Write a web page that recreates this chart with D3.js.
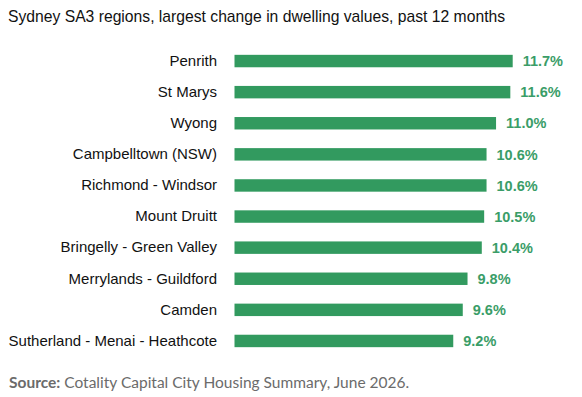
<!DOCTYPE html>
<html>
<head>
<meta charset="utf-8">
<script src="https://cdn.jsdelivr.net/npm/d3@7/dist/d3.min.js"></script>
<style>
  html, body { margin: 0; padding: 0; background: #fff; }
  svg { display: block; }
</style>
</head>
<body>
<svg id="chart" width="582" height="397"></svg>
<script>
const categories = ["Penrith", "St Marys", "Wyong", "Campbelltown (NSW)", "Richmond - Windsor",
  "Mount Druitt", "Bringelly - Green Valley", "Merrylands - Guildford", "Camden",
  "Sutherland - Menai - Heathcote"];
const values = [11.7, 11.6, 11.0, 10.6, 10.6, 10.5, 10.4, 9.8, 9.6, 9.2];
const valueLabels = ["11.7%", "11.6%", "11.0%", "10.6%", "10.6%", "10.5%", "10.4%", "9.8%", "9.6%", "9.2%"];
const title = "Sydney SA3 regions, largest change in dwelling values, past 12 months";
const sourceLabel = "Source:";
const sourceText = " Cotality Capital City Housing Summary, June 2026.";

const svg = d3.select("#chart");
const barColor = "#329a5f";
const labelColor = "#3a9d68";

svg.append("text")
  .attr("x", 8).attr("y", 22)
  .attr("font-family", "Liberation Sans, Arial, sans-serif")
  .attr("font-size", 15.7)
  .attr("fill", "#111")
  .text(title);

const x = d3.scaleLinear().domain([0, 11.7]).range([234.5, 512.7]);
const y = d3.scaleBand().domain(categories).range([45.5, 356.5]).paddingInner(0.6).paddingOuter(0.3);

const g = svg.append("g");

g.selectAll("rect.bar").data(values).join("rect")
  .attr("class", "bar")
  .attr("x", x(0))
  .attr("y", (d, i) => y(categories[i]))
  .attr("width", d => x(d) - x(0))
  .attr("height", y.bandwidth())
  .attr("fill", barColor);

const yAxis = d3.axisLeft(y).tickSize(0).tickPadding(0);
const axG = svg.append("g").attr("transform", "translate(217,0)").call(yAxis);
axG.select(".domain").remove();
axG.selectAll("text")
  .attr("font-family", "Liberation Sans, Arial, sans-serif")
  .attr("font-size", 15)
  .attr("fill", "#111");

g.selectAll("text.val").data(values).join("text")
  .attr("class", "val")
  .attr("x", d => x(d) + 10)
  .attr("y", (d, i) => y(categories[i]) + y.bandwidth() / 2)
  .attr("dy", "0.36em")
  .attr("font-family", "Liberation Sans, Arial, sans-serif")
  .attr("font-weight", "bold")
  .attr("font-size", 14.5)
  .attr("fill", labelColor)
  .text((d, i) => valueLabels[i]);

const src = svg.append("text")
  .attr("x", 9).attr("y", 388)
  .attr("font-family", "Lato, sans-serif")
  .attr("font-size", 15.5)
  .attr("fill", "#6b6b6b");
src.append("tspan").attr("font-weight", "bold").text(sourceLabel);
src.append("tspan").text(sourceText);
</script>
</body>
</html>
